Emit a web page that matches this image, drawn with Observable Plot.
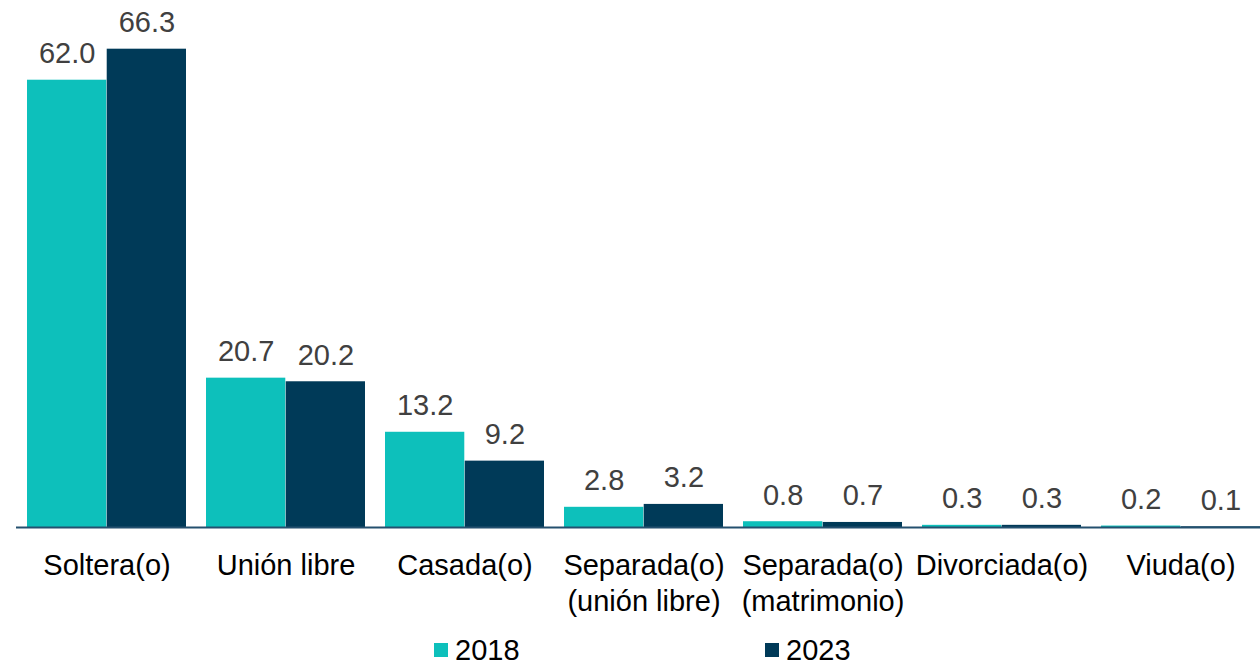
<!DOCTYPE html>
<html>
<head>
<meta charset="utf-8">
<script src="https://cdn.jsdelivr.net/npm/d3@7"></script>
<script src="https://cdn.jsdelivr.net/npm/@observablehq/plot@0.6"></script>
<style>
  html, body { margin: 0; padding: 0; background: #fff; overflow: hidden; }
  body { width: 1260px; height: 668px; font-family: "Liberation Sans", Arial, sans-serif; }
  #chart { width: 1260px; height: 630px; overflow: hidden; }
  #chart svg { max-width: none !important; width: 1272px; height: 630px; display: block; }
  #legend { position: relative; height: 38px; font-size: 29px; color: #000; }
  .item { position: absolute; top: 8px; height: 24px; display: flex; align-items: center; line-height: 24px; }
  .sw { width: 14px; height: 14px; margin-right: 7px; margin-top: 0px; }
</style>
</head>
<body>
<div id="chart"></div>
<div id="legend"></div>
<script>
const categories = ["Soltera(o)", "Unión libre", "Casada(o)", "Separada(o)\n(unión libre)", "Separada(o)\n(matrimonio)", "Divorciada(o)", "Viuda(o)"];
const series = ["2018", "2023"];
const values2018 = [62.0, 20.7, 13.2, 2.8, 0.8, 0.3, 0.2];
const values2023 = [66.3, 20.2, 9.2, 3.2, 0.7, 0.3, 0.1];
const colors = ["#0DC0BB", "#003A58"];

const d2018 = categories.map((c, i) => ({cat: c, value: values2018[i]}));
const d2023 = categories.map((c, i) => ({cat: c, value: values2023[i]}));

const W = 1272, step = (W - 16) / 7, bw = step - 20, half = bw / 2;
const fmt = d3.format(".1f");

const chart = Plot.plot({
  width: W,
  height: 630,
  marginLeft: 16,
  marginRight: 0,
  marginTop: 22,
  marginBottom: 103,
  style: {fontFamily: "'Liberation Sans', Arial, sans-serif", background: "#fff", maxWidth: "none"},
  x: {domain: categories, paddingInner: 20 / step, paddingOuter: 10 / step},
  y: {domain: [0, 70], axis: null},
  marks: [
    Plot.barY(d2018, {x: "cat", y: "value", fill: colors[0], insetRight: half}),
    Plot.barY(d2023, {x: "cat", y: "value", fill: colors[1], insetLeft: half}),
    Plot.ruleY([0], {stroke: "#24506F", strokeWidth: 2}),
    Plot.text(d2018, {x: "cat", y: "value", text: d => fmt(d.value), dx: -half / 2, dy: -17, lineAnchor: "bottom", fontSize: 29, fill: "#404040"}),
    Plot.text(d2023, {x: "cat", y: "value", text: d => fmt(d.value), dx: half / 2, dy: -17, lineAnchor: "bottom", fontSize: 29, fill: "#404040"}),
    Plot.axisX({tickSize: 0, tickPadding: 23, fontSize: 29, lineHeight: 1.21, fill: "#000", label: null})
  ]
});
document.getElementById("chart").appendChild(chart);

const legend = document.getElementById("legend");
const lx = [434, 765];
series.forEach((s, i) => {
  const it = document.createElement("div");
  it.className = "item";
  it.style.left = lx[i] + "px";
  it.innerHTML = `<span class="sw" style="background:${colors[i]}"></span><span>${s}</span>`;
  legend.appendChild(it);
});
</script>
</body>
</html>
